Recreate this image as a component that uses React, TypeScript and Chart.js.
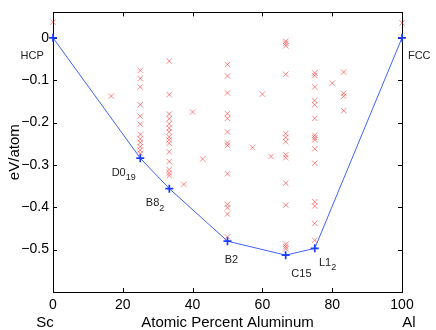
import React, { useEffect, useRef } from 'react';
import { Chart, registerables } from 'chart.js';

Chart.register(...registerables);

// Formation energies of candidate structures (x: at.% Al, y: eV/atom)
const candX = [
  0, 16.7,
  25, 25, 25, 25, 25, 25, 25, 25, 25, 25, 25, 25,
  33.3, 33.3, 33.3, 33.3, 33.3, 33.3, 33.3, 33.3, 33.3, 33.3, 33.3, 33.3, 33.3, 33.3, 33.3,
  37.5, 40, 42.9,
  50, 50, 50, 50, 50, 50, 50, 50, 50, 50, 50, 50, 50,
  57.1, 60, 62.5,
  66.7, 66.7, 66.7, 66.7, 66.7, 66.7, 66.7, 66.7, 66.7, 66.7, 66.7, 66.7, 66.7, 66.7,
  75, 75, 75, 75, 75, 75, 75, 75, 75, 75, 75, 75, 75, 75, 75,
  80,
  83.3, 83.3, 83.3, 83.3,
  100,
];
const candY = [
  0.037, -0.1375,
  -0.077, -0.096, -0.116, -0.158, -0.185, -0.204, -0.228, -0.239, -0.247, -0.257, -0.265, -0.273,
  -0.055, -0.134, -0.18, -0.191, -0.203, -0.213, -0.222, -0.234, -0.241, -0.249, -0.269, -0.292, -0.311, -0.319, -0.325,
  -0.346, -0.175, -0.286,
  -0.063, -0.09, -0.13, -0.179, -0.19, -0.222, -0.248, -0.254, -0.321, -0.393, -0.401, -0.416, -0.47,
  -0.259, -0.133, -0.28,
  -0.008, -0.013, -0.019, -0.086, -0.226, -0.235, -0.245, -0.276, -0.283, -0.343, -0.395, -0.487, -0.493, -0.498,
  -0.083, -0.089, -0.116, -0.148, -0.158, -0.19, -0.23, -0.236, -0.241, -0.262, -0.296, -0.387, -0.397, -0.438, -0.478,
  -0.107,
  -0.081, -0.131, -0.138, -0.172,
  0.035,
];

// Convex hull (ground states)
const hullX = [0, 25, 33.33, 50, 66.67, 75, 100];
const hullY = [0, -0.284, -0.356, -0.48, -0.513, -0.497, 0];

// Structure labels (left x, middle y in data units)
const labelText = ['HCP', 'D0', 'B8', 'B2', 'C15', 'L1', 'FCC'];
const labelSub = ['', '19', '2', '', '', '2', ''];
const labelX = [-9.3, 16.8, 26.6, 49.2, 68.3, 76.2, 101.7];
const labelY = [-0.043, -0.318, -0.391, -0.525, -0.558, -0.531, -0.043];

const xTicks = [0, 20, 40, 60, 80, 100];
const yTicks = [-0.5, -0.4, -0.3, -0.2, -0.1, 0];

const FONT = "'Liberation Sans', Arial, Helvetica, sans-serif";

const decorPlugin = {
  id: 'decor',
  beforeDatasetsDraw(chart: any) {
    const ctx = chart.ctx;
    const { left, right, top, bottom } = chart.chartArea;
    const xs = chart.scales.x;
    const ys = chart.scales.y;
    ctx.save();
    // box
    ctx.strokeStyle = '#000';
    ctx.lineWidth = 1;
    ctx.strokeRect(Math.round(left) + 0.5, Math.round(top) + 0.5, Math.round(right - left), Math.round(bottom - top));
    // inward ticks
    const tl = 4;
    ctx.beginPath();
    xTicks.forEach((v) => {
      const px = Math.round(xs.getPixelForValue(v)) + 0.5;
      ctx.moveTo(px, bottom);
      ctx.lineTo(px, bottom - tl);
      ctx.moveTo(px, top);
      ctx.lineTo(px, top + tl);
    });
    yTicks.forEach((v) => {
      const py = Math.round(ys.getPixelForValue(v)) + 0.5;
      ctx.moveTo(left, py);
      ctx.lineTo(left + tl, py);
      ctx.moveTo(right, py);
      ctx.lineTo(right - tl, py);
    });
    ctx.stroke();
    ctx.restore();
  },
  afterDraw(chart: any) {
    const ctx = chart.ctx;
    const { left, right, top, bottom } = chart.chartArea;
    const xs = chart.scales.x;
    const ys = chart.scales.y;
    ctx.save();
    // axis texts
    ctx.fillStyle = '#000';
    ctx.font = `15px ${FONT}`;
    ctx.textBaseline = 'alphabetic';
    ctx.textAlign = 'center';
    ctx.fillText('Sc', left - 8, 327);
    ctx.fillText('Al', right + 7, 327);
    ctx.fillText('Atomic Percent Aluminum', (left + right) / 2, 327);
    ctx.save();
    ctx.translate(19, (top + bottom) / 2);
    ctx.rotate(-Math.PI / 2);
    ctx.textBaseline = 'alphabetic';
    ctx.fillText('eV/atom', 0, 0);
    ctx.restore();

    // structure labels
    ctx.fillStyle = '#222';
    ctx.textAlign = 'left';
    ctx.textBaseline = 'middle';
    labelText.forEach((t, i) => {
      const px = xs.getPixelForValue(labelX[i]);
      const py = ys.getPixelForValue(labelY[i]);
      ctx.font = `11px ${FONT}`;
      ctx.fillText(t, px, py);
      if (labelSub[i]) {
        const w = ctx.measureText(t).width;
        ctx.font = `9px ${FONT}`;
        ctx.fillText(labelSub[i], px + w, py + 5);
      }
    });
    ctx.restore();
  },
};

export default function App() {
  const ref = useRef<HTMLCanvasElement | null>(null);
  useEffect(() => {
    if (!ref.current) return;
    const chart = new Chart(ref.current, {
      type: 'scatter',
      data: {
        datasets: [
          {
            label: 'hull',
            data: hullX.map((x, i) => ({ x, y: hullY[i] })),
            showLine: true,
            borderColor: '#3f62ff',
            borderWidth: 1,
            pointStyle: 'cross',
            pointRadius: 4,
            pointBorderWidth: 1.7,
            pointBorderColor: '#1a3cff',
            pointBackgroundColor: '#1a3cff',
            clip: false,
          } as any,
          {
            label: 'candidates',
            data: candX.map((x, i) => ({ x, y: candY[i] })),
            showLine: false,
            pointStyle: 'crossRot',
            pointRadius: 3.8,
            pointBorderWidth: 1,
            pointBorderColor: 'rgba(255,20,20,0.5)',
            pointBackgroundColor: 'rgba(255,20,20,0.5)',
            clip: false,
          } as any,
        ],
      },
      options: {
        animation: false,
        responsive: false,
        devicePixelRatio: 1,
        events: [],
        layout: { padding: { left: 0, right: 34, top: 8, bottom: 0 } },
        plugins: { legend: { display: false }, tooltip: { enabled: false } },
        scales: {
          x: {
            type: 'linear',
            min: 0,
            max: 100,
            grid: { display: false, drawTicks: false },
            border: { display: false },
            afterBuildTicks: (s: any) => {
              s.ticks = xTicks.map((v) => ({ value: v }));
            },
            afterFit: (s: any) => {
              s.height = 38;
            },
            ticks: {
              padding: 5,
              color: '#000',
              font: { family: FONT, size: 14 },
              maxRotation: 0,
              callback: (v: any) => String(v),
            },
          },
          y: {
            type: 'linear',
            min: -0.6,
            max: 0.06,
            grid: { display: false, drawTicks: false },
            border: { display: false },
            afterBuildTicks: (s: any) => {
              s.ticks = yTicks.map((v) => ({ value: v }));
            },
            afterFit: (s: any) => {
              s.width = 53;
            },
            ticks: {
              padding: 4,
              color: '#000',
              font: { family: FONT, size: 14 },
              callback: (v: any) => (Math.abs(v) < 1e-9 ? '0' : '\u2212' + Math.abs(v).toFixed(1)),
            },
          },
        },
      },
      plugins: [decorPlugin],
    });
    return () => chart.destroy();
  }, []);
  return (
    <div style={{ position: 'fixed', left: 0, top: 0, width: 436, height: 330, background: '#fff' }}>
      <canvas ref={ref} width={436} height={330} style={{ display: 'block' }} />
    </div>
  );
}
